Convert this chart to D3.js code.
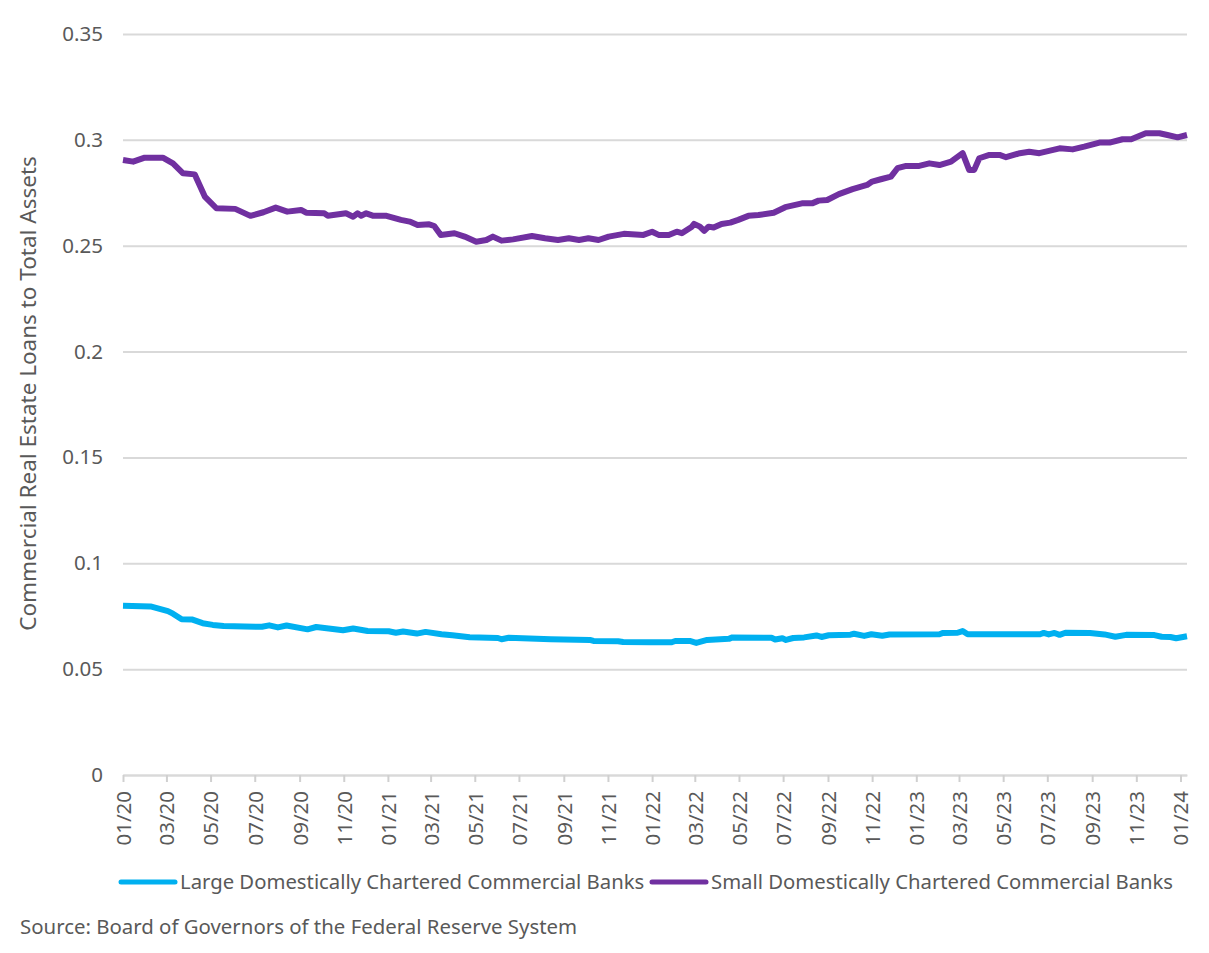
<!DOCTYPE html>
<html>
<head>
<meta charset="utf-8">
<script src="https://cdn.jsdelivr.net/npm/d3@7"></script>
<style>
  body { margin: 0; background: #fff; }
  text { font-family: "Noto Sans", sans-serif; fill: #595959; }
</style>
</head>
<body>
<div id="chart"></div>
<script>
// Series names
const seriesNames = [
    "Large Domestically Chartered Commercial Banks",
    "Small Domestically Chartered Commercial Banks"
];

// Large banks: [date, CRE loans / total assets]
const largeBanks = [
    ["2020-01-01", 0.0800], ["2020-02-08", 0.0796], ["2020-03-03", 0.0774], ["2020-03-10", 0.0762],
    ["2020-03-22", 0.0736], ["2020-04-05", 0.0735], ["2020-04-20", 0.0717], ["2020-05-04", 0.0709],
    ["2020-05-19", 0.0704], ["2020-06-17", 0.0701], ["2020-07-11", 0.0700], ["2020-07-21", 0.0707],
    ["2020-08-02", 0.0697], ["2020-08-14", 0.0706], ["2020-09-12", 0.0688], ["2020-09-24", 0.0699],
    ["2020-10-31", 0.0684], ["2020-11-14", 0.0692], ["2020-12-04", 0.0680], ["2021-01-02", 0.0679],
    ["2021-01-12", 0.0672], ["2021-01-22", 0.0678], ["2021-02-10", 0.0668], ["2021-02-22", 0.0676],
    ["2021-03-16", 0.0665], ["2021-03-31", 0.0660], ["2021-04-24", 0.0651], ["2021-06-02", 0.0647],
    ["2021-06-07", 0.0641], ["2021-06-17", 0.0648], ["2021-07-06", 0.0646], ["2021-08-14", 0.0641],
    ["2021-10-07", 0.0638], ["2021-10-12", 0.0633], ["2021-11-15", 0.0632], ["2021-11-22", 0.0628],
    ["2021-12-30", 0.0627], ["2022-01-28", 0.0627], ["2022-02-02", 0.0633], ["2022-02-22", 0.0633],
    ["2022-03-03", 0.0624], ["2022-03-18", 0.0638], ["2022-04-17", 0.0643], ["2022-04-22", 0.0650],
    ["2022-06-15", 0.0648], ["2022-06-20", 0.0640], ["2022-06-30", 0.0646], ["2022-07-05", 0.0638],
    ["2022-07-15", 0.0647], ["2022-07-30", 0.0650], ["2022-08-16", 0.0659], ["2022-08-23", 0.0652],
    ["2022-09-02", 0.0660], ["2022-10-02", 0.0663], ["2022-10-07", 0.0667], ["2022-10-21", 0.0657],
    ["2022-10-31", 0.0665], ["2022-11-15", 0.0658], ["2022-11-25", 0.0664], ["2023-02-02", 0.0665],
    ["2023-02-07", 0.0671], ["2023-02-27", 0.0672], ["2023-03-06", 0.0680], ["2023-03-13", 0.0665],
    ["2023-06-21", 0.0665], ["2023-06-26", 0.0671], ["2023-07-03", 0.0664], ["2023-07-11", 0.0671],
    ["2023-07-18", 0.0662], ["2023-07-26", 0.0672], ["2023-08-29", 0.0671], ["2023-09-18", 0.0664],
    ["2023-10-03", 0.0653], ["2023-10-18", 0.0662], ["2023-11-26", 0.0661], ["2023-12-06", 0.0653],
    ["2023-12-18", 0.0652], ["2023-12-26", 0.0646], ["2024-01-10", 0.0655]
];

// Small banks: [date, CRE loans / total assets]
const smallBanks = [
    ["2020-01-01", 0.2905], ["2020-01-15", 0.2897], ["2020-01-31", 0.2916], ["2020-02-25", 0.2916],
    ["2020-03-10", 0.2889], ["2020-03-24", 0.2842], ["2020-04-09", 0.2837], ["2020-04-23", 0.2732],
    ["2020-05-09", 0.2677], ["2020-06-04", 0.2674], ["2020-06-25", 0.2641], ["2020-07-13", 0.2658],
    ["2020-07-30", 0.2680], ["2020-08-15", 0.2661], ["2020-09-03", 0.2669], ["2020-09-10", 0.2656],
    ["2020-10-05", 0.2653], ["2020-10-10", 0.2642], ["2020-11-04", 0.2653], ["2020-11-14", 0.2637],
    ["2020-11-20", 0.2653], ["2020-11-25", 0.2642], ["2020-12-02", 0.2653], ["2020-12-11", 0.2642],
    ["2020-12-30", 0.2641], ["2021-01-19", 0.2622], ["2021-01-31", 0.2614], ["2021-02-11", 0.2598],
    ["2021-02-27", 0.2601], ["2021-03-06", 0.2593], ["2021-03-15", 0.2551], ["2021-04-03", 0.2559],
    ["2021-04-17", 0.2543], ["2021-05-03", 0.2519], ["2021-05-17", 0.2527], ["2021-05-26", 0.2543],
    ["2021-06-07", 0.2524], ["2021-06-23", 0.2530], ["2021-07-19", 0.2546], ["2021-08-06", 0.2535],
    ["2021-08-24", 0.2527], ["2021-09-08", 0.2535], ["2021-09-22", 0.2527], ["2021-10-05", 0.2535],
    ["2021-10-19", 0.2527], ["2021-11-02", 0.2543], ["2021-11-23", 0.2556], ["2021-12-20", 0.2551],
    ["2022-01-01", 0.2566], ["2022-01-10", 0.2551], ["2022-01-24", 0.2551], ["2022-02-04", 0.2566],
    ["2022-02-11", 0.2559], ["2022-02-25", 0.2590], ["2022-02-28", 0.2603], ["2022-03-08", 0.2590],
    ["2022-03-14", 0.2570], ["2022-03-20", 0.2590], ["2022-03-27", 0.2586], ["2022-04-07", 0.2603],
    ["2022-04-19", 0.2609], ["2022-04-30", 0.2622], ["2022-05-14", 0.2641], ["2022-05-28", 0.2645],
    ["2022-06-18", 0.2656], ["2022-07-04", 0.2682], ["2022-07-27", 0.2700], ["2022-08-10", 0.2700],
    ["2022-08-19", 0.2713], ["2022-08-31", 0.2716], ["2022-09-16", 0.2744], ["2022-10-05", 0.2767],
    ["2022-10-25", 0.2787], ["2022-11-01", 0.2803], ["2022-11-13", 0.2814], ["2022-11-27", 0.2826],
    ["2022-12-06", 0.2866], ["2022-12-18", 0.2877], ["2023-01-05", 0.2877], ["2023-01-19", 0.2889],
    ["2023-02-02", 0.2881], ["2023-02-18", 0.2897], ["2023-03-06", 0.2937], ["2023-03-15", 0.2858],
    ["2023-03-22", 0.2858], ["2023-03-29", 0.2913], ["2023-04-12", 0.2929], ["2023-04-26", 0.2929],
    ["2023-05-05", 0.2918], ["2023-05-24", 0.2937], ["2023-06-06", 0.2944], ["2023-06-20", 0.2937],
    ["2023-07-18", 0.2960], ["2023-08-05", 0.2955], ["2023-08-21", 0.2968], ["2023-09-11", 0.2987],
    ["2023-09-25", 0.2987], ["2023-10-13", 0.3003], ["2023-10-25", 0.3003], ["2023-11-14", 0.3031],
    ["2023-12-03", 0.3031], ["2023-12-14", 0.3023], ["2023-12-28", 0.3012], ["2024-01-10", 0.3023]
];

// Axis ticks
const yTicks = [0, 0.05, 0.1, 0.15, 0.2, 0.25, 0.3, 0.35];
const xTickDates = [
    "2020-01-01", "2020-03-01", "2020-05-01", "2020-07-01", "2020-09-01", "2020-11-01",
    "2021-01-01", "2021-03-01", "2021-05-01", "2021-07-01", "2021-09-01", "2021-11-01",
    "2022-01-01", "2022-03-01", "2022-05-01", "2022-07-01", "2022-09-01", "2022-11-01",
    "2023-01-01", "2023-03-01", "2023-05-01", "2023-07-01", "2023-09-01", "2023-11-01",
    "2024-01-01"
];

const colors = ["#00b0f0", "#7030a0"];

drawChart();

function drawChart() {
    const parseDate = d3.timeParse("%Y-%m-%d");
    const formatTick = d3.timeFormat("%m/%y");

    let dimensions = {
        width: 1209,
        height: 953,
        margin: { top: 34, left: 123, right: 22, bottom: 178 }
    };
    const innerBottom = dimensions.height - dimensions.margin.bottom;
    const innerRight = dimensions.width - dimensions.margin.right;

    const series = [largeBanks, smallBanks].map(function(s) {
        return s.map(function(d) { return { date: parseDate(d[0]), value: d[1] }; });
    });

    const xScale = d3.scaleTime()
        .domain([parseDate("2020-01-01"), parseDate("2024-01-10")])
        .range([dimensions.margin.left, innerRight]);

    const yScale = d3.scaleLinear()
        .domain([0, 0.35])
        .range([innerBottom, dimensions.margin.top]);

    const svg = d3.select("#chart")
        .append("svg")
        .attr("width", dimensions.width)
        .attr("height", dimensions.height);

    // Gridlines + y labels
    const yAxis = svg.append("g")
        .attr("transform", `translate(${dimensions.margin.left}, 0)`)
        .call(d3.axisLeft(yScale)
            .tickValues(yTicks)
            .tickSize(-(innerRight - dimensions.margin.left))
            .tickPadding(20)
            .tickFormat(function(d) { return d === 0 ? "0" : d3.format("")(d); }));
    yAxis.select(".domain").remove();
    yAxis.selectAll(".tick line")
        .attr("stroke", "#d9d9d9")
        .attr("stroke-width", 2);
    yAxis.selectAll(".tick text")
        .style("font-size", "20.5px")
        .attr("fill", "#595959");

    // X axis
    const xAxis = svg.append("g")
        .attr("transform", `translate(0, ${innerBottom})`)
        .call(d3.axisBottom(xScale)
            .tickValues(xTickDates.map(parseDate))
            .tickSize(7)
            .tickSizeOuter(0)
            .tickFormat(formatTick));
    xAxis.select(".domain")
        .attr("stroke", "#d9d9d9")
        .attr("stroke-width", 2);
    xAxis.selectAll(".tick line")
        .attr("stroke", "#d0d0d0")
        .attr("stroke-width", 2);
    xAxis.selectAll(".tick text")
        .style("font-size", "20.5px")
        .attr("fill", "#595959")
        .attr("text-anchor", "end")
        .attr("transform", "rotate(-90)")
        .attr("x", -16)
        .attr("y", 0)
        .attr("dy", "0.36em");

    // Lines
    const line = d3.line()
        .x(function(d) { return xScale(d.date); })
        .y(function(d) { return yScale(d.value); });

    svg.selectAll(".series")
        .data(series)
        .enter()
        .append("path")
        .attr("class", "series")
        .attr("d", line)
        .attr("fill", "none")
        .attr("stroke", function(d, i) { return colors[i]; })
        .attr("stroke-width", 6)
        .attr("stroke-linejoin", "round");

    // Y axis title
    svg.append("text")
        .attr("transform", `translate(36, ${(dimensions.margin.top + innerBottom) / 2 - 11}) rotate(-90)`)
        .attr("text-anchor", "middle")
        .style("font-size", "22.5px")
        .text("Commercial Real Estate Loans to Total Assets");

    // Legend
    const legendX = [121, 652];
    const legendItem = svg.selectAll(".legend-item")
        .data(seriesNames)
        .enter()
        .append("g")
        .attr("class", "legend-item")
        .attr("transform", function(d, i) { return `translate(${legendX[i]}, 882)`; });

    legendItem.append("line")
        .attr("x1", 0)
        .attr("x2", 54)
        .attr("stroke", function(d, i) { return colors[i]; })
        .attr("stroke-width", 5)
        .attr("stroke-linecap", "round");

    legendItem.append("text")
        .attr("x", 59)
        .attr("dy", "0.35em")
        .style("font-size", "20.3px")
        .text(function(d) { return d; });

    // Source
    svg.append("text")
        .attr("x", 20)
        .attr("y", 927)
        .attr("dy", "0.35em")
        .style("font-size", "20.4px")
        .text("Source: Board of Governors of the Federal Reserve System");
}
</script>
</body>
</html>
